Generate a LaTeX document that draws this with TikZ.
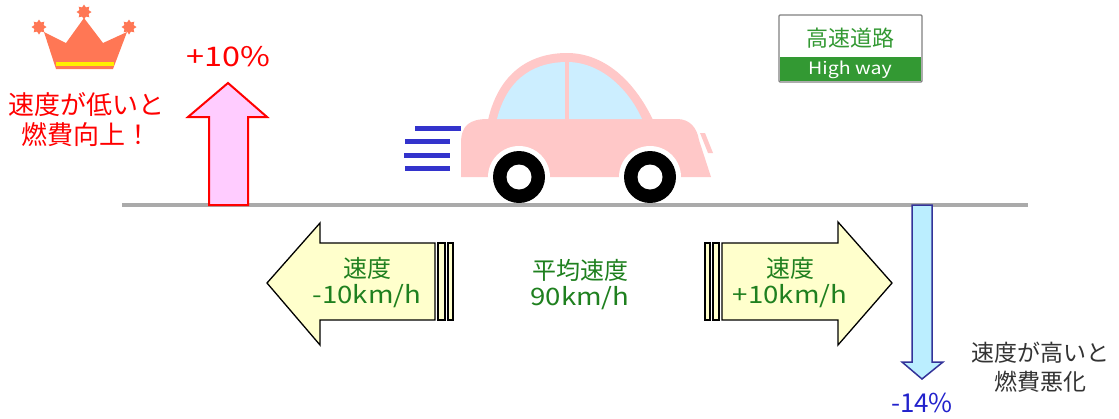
\documentclass[tikz,border=0pt]{standalone}
\usepackage{fontspec}
\setmainfont{Noto Sans CJK JP}
\newfontfamily\widefont[FakeStretch=1.15]{Noto Sans CJK JP}
\newfontfamily\widerfont[FakeStretch=1.2]{Noto Sans CJK JP}
\usetikzlibrary{shapes.geometric}
\definecolor{roadgray}{HTML}{AAAAAA}
\definecolor{carpink}{HTML}{FFC8C8}
\definecolor{glassblue}{HTML}{CCEEFF}
\definecolor{speedblue}{HTML}{3333CC}
\definecolor{crownorange}{HTML}{FF7755}
\definecolor{crownyellow}{HTML}{FFEE00}
\definecolor{textgreen}{HTML}{1F801F}
\definecolor{signgreen}{HTML}{339933}
\definecolor{uppink}{HTML}{FFCCFF}
\definecolor{downblue}{HTML}{BBEEFF}
\definecolor{downedge}{HTML}{333399}
\definecolor{minusblue}{HTML}{2222CC}
\definecolor{paleyellow}{HTML}{FFFFCC}
\definecolor{darktext}{HTML}{333333}
\tikzset{
	greentext/.style={text=textgreen, align=center, font=\fontsize{24}{26}\selectfont},
	crownstar/.style={star, star points=8, star point ratio=1.5, fill=crownorange, inner sep=0pt, minimum size=15pt},
	speedline/.style={speedblue, line width=5pt},
	sidearrow/.style={draw=black, line width=1.3pt, fill=paleyellow, line join=miter},
}

\begin{document}
\begin{tikzpicture}[x=1pt, y=-1pt]
		\useasboundingbox (0,0) rectangle (1119,418);

		\fill[crownorange] (56,69) -- (44,32) -- (66,43) -- (84,18) -- (103,43) -- (127,32) -- (113,69) -- cycle;
		\fill[crownyellow] (55.5,62) rectangle (113.5,66);
		\node[crownstar] (starleft) at (39,27) {};
		\node[crownstar] (startop) at (84,12) {};
		\node[crownstar] (starright) at (129,27) {};

		\node[text=red, align=center, font=\fontsize{26}{30}\selectfont] (slowtext) at (87,120) {速度が低いと\\燃費向上！};
		\node[text=red, font=\widerfont\fontsize{27}{30}\selectfont] (plus) at (228,57) {+10\%};

		\fill[carpink] (461,177) -- (461,143) .. controls (461,125) and (470,119) .. (488,119)
			-- (677,119) .. controls (690,119) and (697,128) .. (699,140) -- (711,177) -- cycle;
		\fill[carpink] (488,120) .. controls (500,68) and (535,53) .. (567,53)
			.. controls (605,53) and (635,82) .. (653,120) -- cycle;
		\fill[glassblue] (497,119) .. controls (508,75) and (538,62) .. (567,62)
			.. controls (600,62) and (628,88) .. (642,119) -- cycle;
		\fill[carpink] (565,60) rectangle (569,120);
		\fill[carpink] (700,133) -- (705,133) -- (713,153) -- (708,153) -- cycle;
		\foreach \wx in {519,650} {
			\fill[white] (\wx,177) circle (31);
			\fill[black] (\wx,177) circle (26);
			\fill[white] (\wx,177) circle (12.5);
		}

		\draw[speedline] (415,128) -- (461,128);
		\draw[speedline] (405,141) -- (450,141);
		\draw[speedline] (404,155) -- (450,155);
		\draw[speedline] (405,168) -- (450,168);

		\draw[roadgray, line width=4pt] (122,205) -- (1028,205);

		\draw[red, line width=2pt, fill=uppink] (209,205) -- (209,117) -- (188,117) -- (228,83)
			-- (267,117) -- (248,117) -- (248,205) -- cycle;

		\draw[downedge, line width=1.5pt, fill=downblue] (912,205) -- (912,362) -- (902,362) -- (922,379)
			-- (943,362) -- (932,362) -- (932,205) -- cycle;
		\node[text=minusblue, font=\fontsize{26}{30}\selectfont] (minus) at (922,403) {-14\%};
		\node[text=darktext, align=center, font=\fontsize{23}{29}\selectfont] (fasttext) at (1040,367) {速度が高いと\\燃費悪化};

		\draw[sidearrow] (435,243) -- (320,243) -- (320,223) -- (267,283) -- (320,345) -- (320,320) -- (435,320) -- cycle;
		\draw[sidearrow] (438,243) rectangle (445,320);
		\draw[sidearrow] (448,243) rectangle (453,320);
		\node[greentext] (slower) at (367,283) {速度\\{\widefont -10km/h}};

		\draw[sidearrow] (722,243) -- (838,243) -- (838,222) -- (892,283) -- (838,345) -- (838,320) -- (722,320) -- cycle;
		\draw[sidearrow] (713,243) rectangle (719,320);
		\draw[sidearrow] (705,243) rectangle (710,320);
		\node[greentext] (faster) at (790,283) {速度\\{\widefont +10km/h}};

		\node[greentext] (average) at (580,285) {平均速度\\{\widefont 90km/h}};

		\draw[gray, line width=1.2pt, fill=white, rounded corners=1pt] (779,15) rectangle (922,82);
		\fill[signgreen] (780,57) rectangle (921,81);
		\node[text=signgreen, font=\fontsize{22}{24}\selectfont] (signjp) at (850,38) {高速道路};
		\node[text=white, font=\widefont\fontsize{17}{20}\selectfont] (signen) at (850,70) {High way};
	\end{tikzpicture}
\end{document}
